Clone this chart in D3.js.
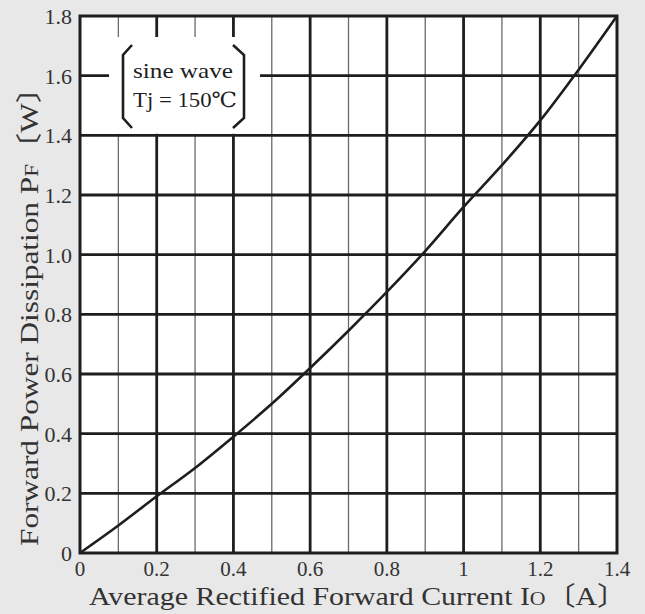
<!DOCTYPE html>
<html><head><meta charset="utf-8">
<script src="https://cdn.jsdelivr.net/npm/d3@7"></script>
<style>body{margin:0;background:#e8e8e8}svg{display:block}
text{font-family:"Liberation Serif","DejaVu Serif","Noto Sans CJK JP",serif}</style>
</head><body>
<svg id="c" width="645" height="614"></svg>
<script>
const currentA = [0, 0.1, 0.2, 0.3, 0.4, 0.5, 0.6, 0.7, 0.8, 0.9, 1.0, 1.1, 1.2, 1.3, 1.4];
const powerW   = [0, 0.092, 0.19, 0.285, 0.39, 0.50, 0.62, 0.745, 0.875, 1.012, 1.16, 1.30, 1.45, 1.62, 1.80];
const xTicks = [0, 0.2, 0.4, 0.6, 0.8, 1, 1.2, 1.4];
const xTickLabels = ["0", "0.2", "0.4", "0.6", "0.8", "1", "1.2", "1.4"];
const xMinor = [0.1, 0.3, 0.5, 0.7, 0.9, 1.1, 1.3];
const yTicks = [0, 0.2, 0.4, 0.6, 0.8, 1.0, 1.2, 1.4, 1.6, 1.8];
const yTickLabels = ["0", "0.2", "0.4", "0.6", "0.8", "1.0", "1.2", "1.4", "1.6", "1.8"];
const legendLines = ["sine wave", "Tj = 150℃"];

const svg = d3.select("#c");
const L = 80, R = 617, T = 16, B = 553;
const x = d3.scaleLinear().domain([0, 1.4]).range([L, R]);
const y = d3.scaleLinear().domain([0, 1.8]).range([B, T]);
const ink = "#1e1e1e";

svg.append("rect").attr("width", 645).attr("height", 614).attr("fill", "#e8e8e8");
svg.append("rect").attr("x", L).attr("y", T).attr("width", R - L).attr("height", B - T).attr("fill", "#fff");

svg.append("g").selectAll("line").data(xMinor).join("line")
  .attr("x1", d => x(d)).attr("x2", d => x(d)).attr("y1", T).attr("y2", B)
  .attr("stroke", "#6a6a6a").attr("stroke-width", 1.3);
svg.append("g").selectAll("line").data(xTicks.slice(1, -1)).join("line")
  .attr("x1", d => x(d)).attr("x2", d => x(d)).attr("y1", T).attr("y2", B)
  .attr("stroke", ink).attr("stroke-width", 2.8);
svg.append("g").selectAll("line").data(yTicks.slice(1, -1)).join("line")
  .attr("x1", L).attr("x2", R).attr("y1", d => y(d)).attr("y2", d => y(d))
  .attr("stroke", ink).attr("stroke-width", 2.8);

svg.append("rect").attr("x", 109).attr("y", 37).attr("width", 151).attr("height", y(1.4) - 1.5 - 37).attr("fill", "#fff");

const line = d3.line().x(d => x(d[0])).y(d => y(d[1])).curve(d3.curveMonotoneX);
svg.append("path").datum(currentA.map((c, i) => [c, powerW[i]]))
  .attr("d", line).attr("fill", "none").attr("stroke", ink).attr("stroke-width", 2.6);

svg.append("rect").attr("x", L).attr("y", T).attr("width", R - L).attr("height", B - T)
  .attr("fill", "none").attr("stroke", ink).attr("stroke-width", 3);

const lg = svg.append("g").attr("fill", "none").attr("stroke", ink).attr("stroke-width", 2.6);
lg.append("path").attr("d", "M132,45 L123,55 L123,118 L132,128");
lg.append("path").attr("d", "M233,45 L244,55 L244,118 L233,128");
svg.append("g").selectAll("text").data(legendLines).join("text")
  .attr("x", 133).attr("y", (d, i) => 78 + i * 29)
  .attr("font-size", 21).attr("fill", ink)
  .attr("textLength", (d, i) => i === 0 ? 100 : 104).attr("lengthAdjust", "spacingAndGlyphs")
  .text(d => d);

svg.append("g").selectAll("text").data(yTicks).join("text")
  .attr("x", 72).attr("y", d => y(d) + 8)
  .attr("text-anchor", "end").attr("font-size", 22).attr("fill", "#333")
  .text((d, i) => yTickLabels[i]);
svg.append("g").selectAll("text").data(xTicks).join("text")
  .attr("x", d => x(d)).attr("y", 576)
  .attr("text-anchor", "middle").attr("font-size", 21).attr("fill", "#333")
  .text((d, i) => xTickLabels[i]);

const xt = svg.append("text").attr("x", 89).attr("y", 605)
  .attr("font-size", 26).attr("fill", "#333")
  .attr("textLength", 538).attr("lengthAdjust", "spacingAndGlyphs");
xt.append("tspan").text("Average Rectified Forward Current I");
xt.append("tspan").attr("font-size", 19).text("O");
xt.append("tspan").text("〔A〕");

const yt = svg.append("text").attr("transform", "translate(38,546) rotate(-90)")
  .attr("font-size", 26).attr("fill", "#333")
  .attr("textLength", 474).attr("lengthAdjust", "spacingAndGlyphs");
yt.append("tspan").text("Forward Power Dissipation P");
yt.append("tspan").attr("font-size", 19).text("F");
yt.append("tspan").text("〔W〕");
</script>
</body></html>
